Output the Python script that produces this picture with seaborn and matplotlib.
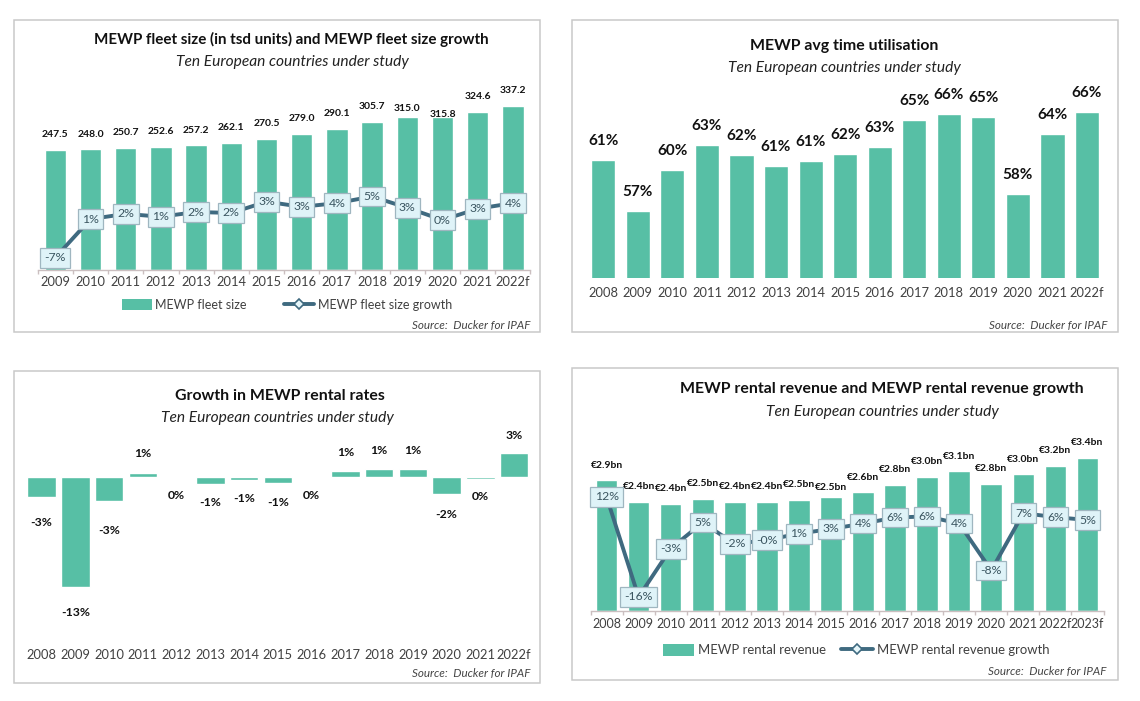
import matplotlib
matplotlib.use("Agg")
import matplotlib.pyplot as plt
from matplotlib.lines import Line2D
from matplotlib.patches import Patch, Rectangle
import numpy as np
import pandas as pd
import seaborn as sns

# ---- data ----
fleet_years = ["2009","2010","2011","2012","2013","2014","2015","2016","2017","2018","2019","2020","2021","2022f"]
fleet_size = [247.5,248.0,250.7,252.6,257.2,262.1,270.5,279.0,290.1,305.7,315.0,315.8,324.6,337.2]
fleet_growth = [-8.0,0.2,1.3,0.7,1.7,1.5,3.9,2.8,3.6,5.0,2.6,0.0,2.4,3.6]
fleet_growth_labels = ["-7%","1%","2%","1%","2%","2%","3%","3%","4%","5%","3%","0%","3%","4%"]

util_years = ["2008","2009","2010","2011","2012","2013","2014","2015","2016","2017","2018","2019","2020","2021","2022f"]
util_values = [61.6,57.0,60.7,63.0,62.1,61.1,61.5,62.2,62.8,65.3,65.8,65.5,58.5,64.0,66.0]
util_labels = ["61%","57%","60%","63%","62%","61%","61%","62%","63%","65%","66%","65%","58%","64%","66%"]

rate_years = util_years
rate_values = [-2.4,-13.2,-2.8,0.55,0.0,-0.8,-0.3,-0.7,0.04,0.7,1.05,1.05,-2.05,-0.15,2.9]
rate_labels = ["-3%","-13%","-3%","1%","0%","-1%","-1%","-1%","0%","1%","1%","1%","-2%","0%","3%"]

rev_years = ["2008","2009","2010","2011","2012","2013","2014","2015","2016","2017","2018","2019","2020","2021","2022f","2023f"]
rev_values = [2.91,2.43,2.38,2.49,2.43,2.43,2.47,2.53,2.64,2.81,2.98,3.10,2.83,3.04,3.23,3.40]
rev_labels = ["€2.9bn","€2.4bn","€2.4bn","€2.5bn","€2.4bn","€2.4bn","€2.5bn","€2.5bn","€2.6bn","€2.8bn","€3.0bn","€3.1bn","€2.8bn","€3.0bn","€3.2bn","€3.4bn"]
rev_growth = [12.0,-16.0,-2.5,4.8,-1.2,-0.1,1.7,3.0,4.5,6.2,6.5,4.5,-8.6,7.4,6.3,5.5]
rev_growth_labels = ["12%","-16%","-3%","5%","-2%","-0%","1%","3%","4%","6%","6%","4%","-8%","7%","6%","5%"]

# ---- layout (pixels) ----
W, H = 1140, 701
BAR = "#57bfa5"
LINE = "#3f6a80"
GRID = "#c9c9c9"
TXT = "#404040"

sns.set_theme(style="white")
plt.rcParams["font.family"] = ["Lato", "DejaVu Sans"]
fig = plt.figure(figsize=(W / 100, H / 100), dpi=100, facecolor="white")


def px_axes(l, t, r, b):
    ax = fig.add_axes([l / W, 1 - b / H, (r - l) / W, (b - t) / H])
    ax.patch.set_alpha(0)
    return ax


def ftext(x, y, s, **kw):
    kw.setdefault("ha", "center")
    kw.setdefault("va", "center")
    fig.text(x / W, 1 - y / H, s, **kw)


def panel(l, t, r, b, title, title_size, tx, ty, sx, sy, src_x, src_y):
    fig.add_artist(Rectangle((l / W, 1 - b / H), (r - l) / W, (b - t) / H, transform=fig.transFigure,
                             fc="white", ec=GRID, lw=1.1, zorder=-5))
    ftext(tx, ty, title, fontsize=title_size, fontweight="bold", color="#111111")
    ftext(sx, sy, "Ten European countries under study", fontsize=11.2, style="italic", color="#222222")
    ftext(src_x, src_y, "Source:  Ducker for IPAF", fontsize=8.4, style="italic", color="#444444", ha="right")


def bars(ax, cats, vals, width):
    df = pd.DataFrame({"year": cats, "value": vals})
    sns.barplot(data=df, x="year", y="value", color=BAR, saturation=1, width=width, ax=ax, zorder=2)
    ax.set_xlabel("")
    ax.set_ylabel("")
    ax.set_yticks([])
    ax.set_xlim(-0.5, len(cats) - 0.5)
    for s in ["top", "left", "right"]:
        ax.spines[s].set_visible(False)


def boundary_ticks(ax, n):
    ax.spines["bottom"].set_color("#cbbfc0")
    ax.spines["bottom"].set_linewidth(1)
    ax.set_xticks(np.arange(n))
    ax.set_xticks(np.arange(-0.5, n), minor=True)
    ax.tick_params(axis="x", which="minor", length=3, color="#cbbfc0", width=1, bottom=True)
    ax.tick_params(axis="x", which="major", length=0)


def growth_line(ax, vals, labels, ylim):
    ax2 = ax.twinx()
    df = pd.DataFrame({"pos": np.arange(len(vals)), "growth": vals})
    sns.lineplot(data=df, x="pos", y="growth", color=LINE, lw=2.8, ax=ax2, zorder=3, sort=False)
    ax2.set_ylim(*ylim)
    ax2.set_xlim(ax.get_xlim())
    ax2.set_yticks([])
    ax2.set_xlabel("")
    ax2.set_ylabel("")
    ax2.patch.set_alpha(0)
    for s in ax2.spines.values():
        s.set_visible(False)
    for i, (v, s) in enumerate(zip(vals, labels)):
        ax2.text(i, v, s, ha="center", va="center", fontsize=8.8, color="#3a5560", zorder=5,
                 bbox=dict(boxstyle="square,pad=0.36", fc="#dff3f8", ec="#9fb6c0", lw=0.9))


def legend(cx, cy, bar_name, line_name, size, spacing):
    handles = [Patch(fc=BAR, ec="none", label=bar_name),
               Line2D([0], [0], color=LINE, lw=2.8, marker="D", ms=5, mfc="#e6f6fa", mec=LINE, mew=1.2, label=line_name)]
    return fig.legend(handles=handles, loc="center", bbox_to_anchor=(cx / W, 1 - cy / H), ncol=2, frameon=False,
                      fontsize=size, handlelength=2.4, handleheight=1.0, handletextpad=0.3, columnspacing=spacing,
                      labelcolor=TXT, borderpad=0)


def value_labels(ax, vals, labels, offs, **kw):
    for i, (v, s, o) in enumerate(zip(vals, labels, offs)):
        ax.annotate(s, (i, v), xytext=(0, o * 0.72), textcoords="offset points", ha="center", va="center",
                    color="#111111", **kw)


# ---- top left ----
panel(14, 20, 540, 332, "MEWP fleet size (in tsd units) and MEWP fleet size growth", 10.9, 291, 39, 292, 62, 530, 325)
ax = px_axes(37.7, 95, 530.5, 269.5)
bars(ax, fleet_years, fleet_size, 0.61)
ax.set_ylim(0, 174.5 / 0.484)
boundary_ticks(ax, len(fleet_years))
ax.tick_params(axis="x", labelsize=9.3, labelcolor=TXT, pad=5)
fleet_offs = [15, 15, 15.5, 15.3, 15, 15.5, 15.5, 15.5, 15.3, 15.2, 9, 2, 15.4, 15.3]
value_labels(ax, fleet_size, [f"{v:.1f}" for v in fleet_size], fleet_offs, fontsize=7.5, fontweight="bold")
k = 4.7
growth_line(ax, fleet_growth, fleet_growth_labels, ((220 - 269.5) / k, (220 - 95) / k))
legend(287, 305, "MEWP fleet size", "MEWP fleet size growth", 9.0, 3.0)

# ---- top right ----
panel(572, 20, 1118, 332, "MEWP avg time utilisation", 11.4, 844, 46, 844, 68, 1107, 325)
ax = px_axes(586, 90, 1104.3, 277.7)
bars(ax, util_years, util_values, 0.7)
px_per = 11.0
base = 57 - (277.7 - 211) / px_per
ax.set_ylim(base, base + (277.7 - 90) / px_per)
ax.spines["bottom"].set_visible(False)
ax.tick_params(axis="x", length=0, labelsize=9.3, labelcolor=TXT, pad=7)
value_labels(ax, util_values, util_labels, [19] * len(util_values), fontsize=11, fontweight="bold")

# ---- bottom left ----
panel(14, 371, 540, 683, "Growth in MEWP rental rates", 11.4, 280, 396, 277, 418, 530, 674)
ax = px_axes(24.8, 425, 531, 632)
bars(ax, rate_years, rate_values, 0.84)
px_per = 8.3
ax.set_ylim(-(632 - 477.3) / px_per, (477.3 - 425) / px_per)
ax.spines["bottom"].set_visible(False)
ax.tick_params(axis="x", length=0, labelsize=9.3, labelcolor=TXT, pad=12)
rate_offs = [-25, -26, -30, 19, -18, -19, -19, -19, -19, 19, 18, 18, -20, -18, 18]
value_labels(ax, rate_values, rate_labels, rate_offs, fontsize=8.8, fontweight="bold")

# ---- bottom right ----
panel(572, 368, 1118, 680, "MEWP rental revenue and MEWP rental revenue growth", 11.4, 882, 389, 882, 412, 1106, 671)
ax = px_axes(590.5, 430, 1103.5, 611)
bars(ax, rev_years, rev_values, 0.675)
ax.set_ylim(0, 181 / 45)
boundary_ticks(ax, len(rev_years))
ax.tick_params(axis="x", labelsize=9.0, labelcolor=TXT, pad=5)
rev_offs = [15] * len(rev_values)
rev_offs[7] = 10
value_labels(ax, rev_values, rev_labels, rev_offs, fontsize=7.5, fontweight="bold")
k = 3.58
growth_line(ax, rev_growth, rev_growth_labels, ((539.7 - 611) / k, (539.7 - 430) / k))
legend(856, 650, "MEWP rental revenue", "MEWP rental revenue growth", 9.45, 1.15)

fig.savefig("out.png", dpi=100, facecolor="white")
